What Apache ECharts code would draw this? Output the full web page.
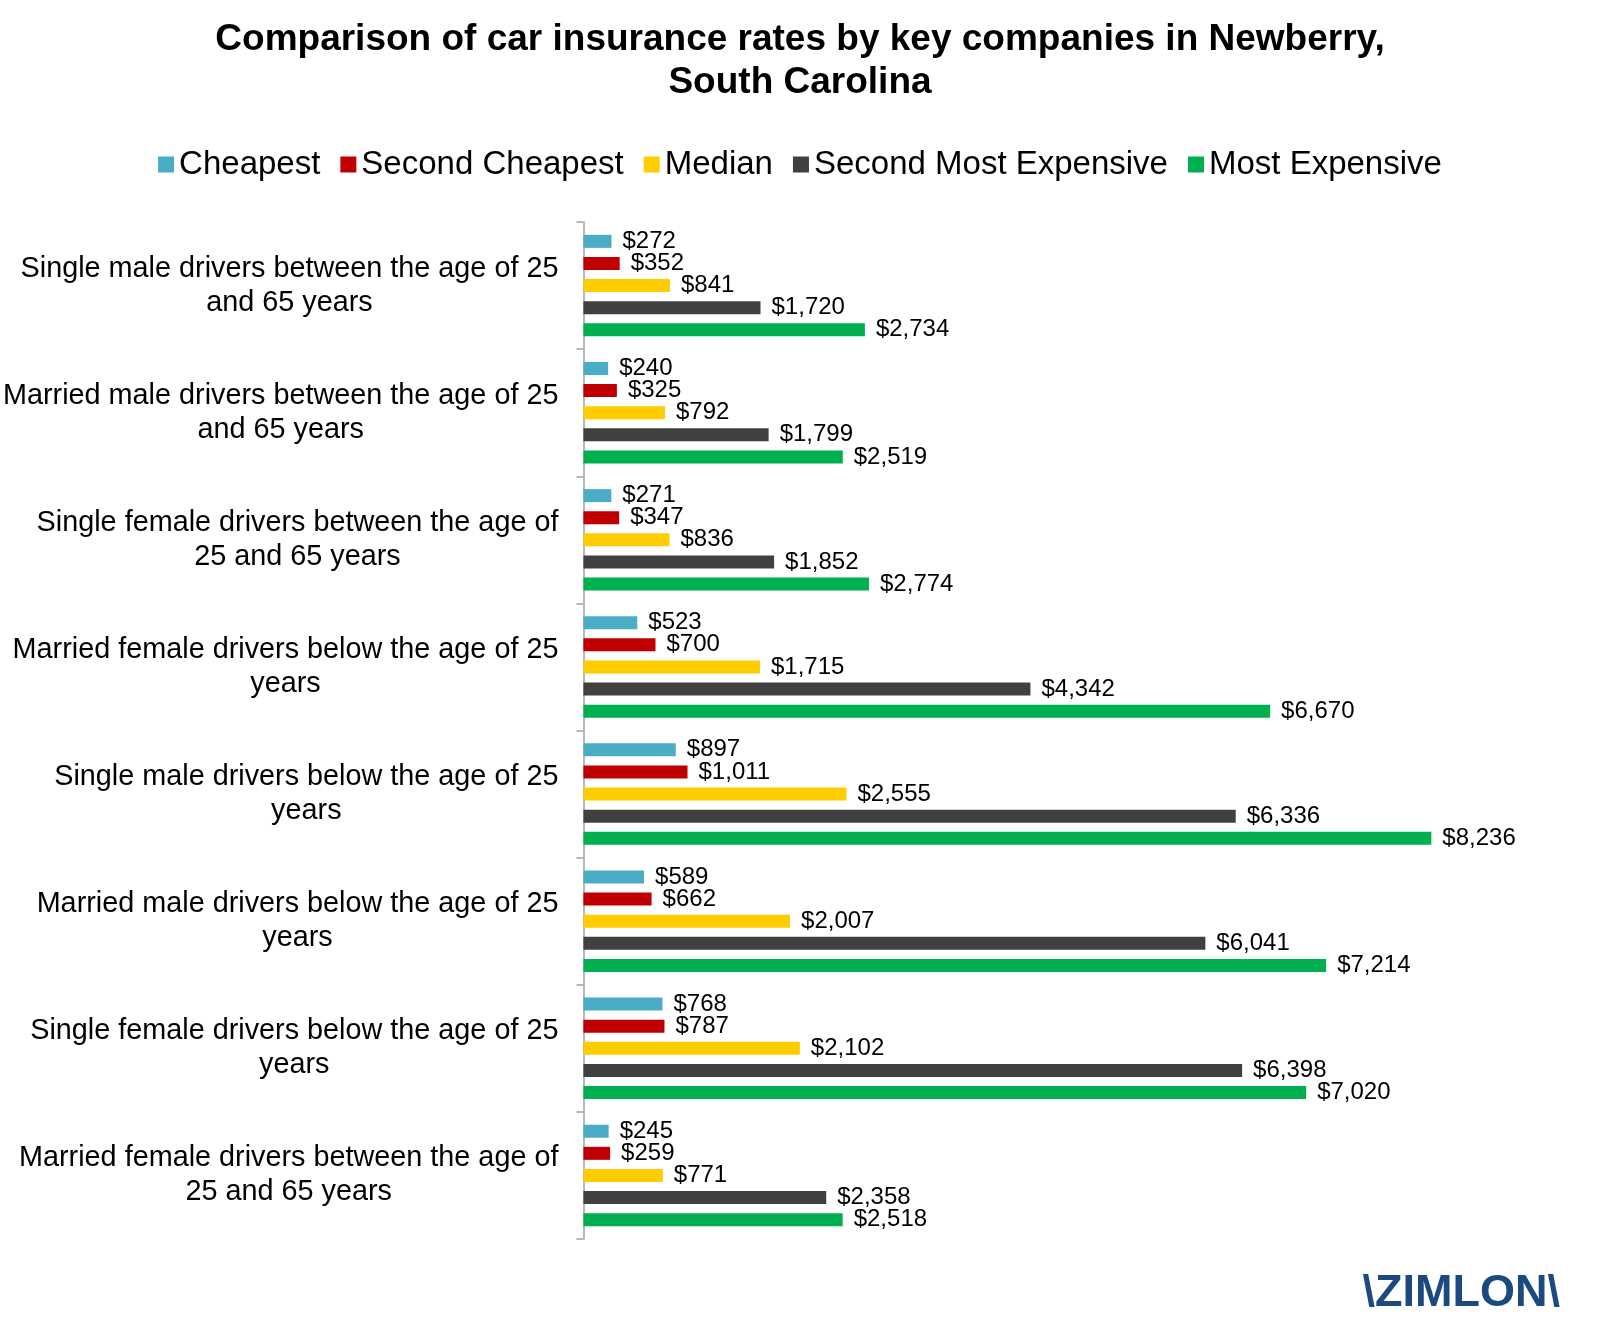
<!DOCTYPE html>
<html>
<head>
<meta charset="utf-8">
<script src="https://cdn.jsdelivr.net/npm/echarts@6/dist/echarts.min.js"></script>
<style>
html,body{margin:0;padding:0;background:#fff;}
#chart{width:1600px;height:1328px;}
</style>
</head>
<body>
<div id="chart"></div>
<script>
const titleText = 'Comparison of car insurance rates by key companies in Newberry,\nSouth Carolina';
const categories = [
  'Single male drivers between the age of 25\nand 65 years',
  'Married male drivers between the age of 25\nand 65 years',
  'Single female drivers between the age of\n25 and 65 years',
  'Married female drivers below the age of 25\nyears',
  'Single male drivers below the age of 25\nyears',
  'Married male drivers below the age of 25\nyears',
  'Single female drivers below the age of 25\nyears',
  'Married female drivers between the age of\n25 and 65 years'
];
const seriesNames = ['Cheapest', 'Second Cheapest', 'Median', 'Second Most Expensive', 'Most Expensive'];
const cheapest = [272, 240, 271, 523, 897, 589, 768, 245];
const secondCheapest = [352, 325, 347, 700, 1011, 662, 787, 259];
const median = [841, 792, 836, 1715, 2555, 2007, 2102, 771];
const secondMostExpensive = [1720, 1799, 1852, 4342, 6336, 6041, 6398, 2358];
const mostExpensive = [2734, 2519, 2774, 6670, 8236, 7214, 7020, 2518];
const logoText = '\\ZIMLON\\';

const colors = ['#4bacc6', '#c00000', '#ffcc00', '#404040', '#00b050'];
const seriesData = [cheapest, secondCheapest, median, secondMostExpensive, mostExpensive];
const FONT = 'Liberation Sans, Arial, sans-serif';

const chart = echarts.init(document.getElementById('chart'), null, {renderer: 'canvas'});
chart.setOption({
  backgroundColor: '#ffffff',
  animation: false,
  color: colors,
  title: {
    text: titleText,
    left: 'center',
    top: 13,
    textStyle: {fontFamily: FONT, fontSize: 37, fontWeight: 'bold', color: '#000', lineHeight: 43}
  },
  legend: {
    top: 143,
    left: 'center',
    itemWidth: 16,
    itemHeight: 16,
    itemGap: 20,
    icon: 'rect',
    data: seriesNames,
    textStyle: {fontFamily: FONT, fontSize: 33, color: '#000'}
  },
  grid: {left: 582, right: 90, top: 222, height: 1017, containLabel: false},
  xAxis: {
    type: 'value', min: 0, max: 9000, show: false
  },
  yAxis: {
    type: 'category',
    inverse: true,
    data: categories,
    axisLine: {show: true, lineStyle: {color: '#a0a0a0', width: 1.5}},
    axisTick: {show: true, length: 7, lineStyle: {color: '#a0a0a0', width: 1.5}},
    axisLabel: {
      margin: 25,
      fontFamily: FONT,
      formatter: function (v) {
        return v.split('\n').map(function (l) { return '{c|' + l + '}'; }).join('\n');
      },
      rich: {c: {align: 'center', fontFamily: FONT, fontSize: 28.8, lineHeight: 34, color: '#000'}}
    }
  },
  series: seriesNames.map(function (name, i) {
    return {
      name: name,
      type: 'bar',
      data: seriesData[i],
      barWidth: 13,
      barGap: '70%',
      itemStyle: {color: colors[i]},
      label: {
        show: true,
        position: 'right',
        distance: 11,
        fontFamily: FONT,
        fontSize: 24,
        color: '#000',
        formatter: function (p) { return '$' + p.value.toLocaleString('en-US'); }
      }
    };
  }),
  graphic: [{
    type: 'text',
    right: 40,
    top: 1271,
    style: {text: logoText, fontFamily: FONT, fontSize: 45, fontWeight: 'bold', fill: '#1c4a80'}
  }]
});
</script>
</body>
</html>
